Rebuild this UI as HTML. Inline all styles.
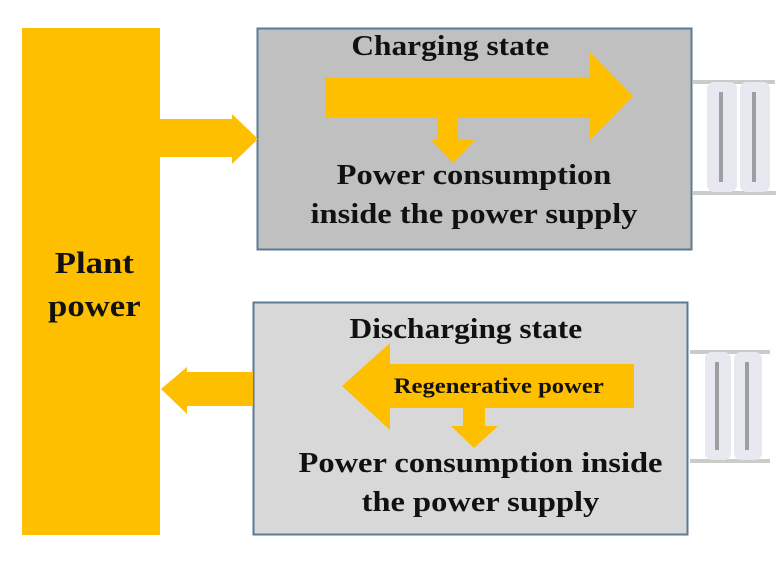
<!DOCTYPE html>
<html><head><style>
body{margin:0;width:780px;height:566px;background:#fff;overflow:hidden;position:relative;font-family:"Liberation Serif",serif;font-weight:bold}
.t{position:absolute;text-align:center;color:#111;white-space:nowrap}
.s{display:inline-block;transform:scaleX(1.12)}
</style></head><body>
<svg width="780" height="566" style="position:absolute;left:0;top:0">
<rect x="22" y="28" width="138" height="507" fill="#fdbf00"/>
<rect x="257.5" y="28.5" width="434" height="221" fill="#c0c0c0" stroke="#5a7a95" stroke-width="2"/>
<rect x="253.5" y="302.5" width="434" height="232" fill="#d8d8d8" stroke="#5a7a95" stroke-width="2"/>
<polygon points="160,119 232,119 232,114 258,139 232,164 232,157 160,157" fill="#fdbf00"/>
<polygon points="253,372 187,372 187,367 161,389 187,414 187,406 253,406" fill="#fdbf00"/>
<polygon points="325,77 590,77 590,52 633,96 590,140 590,118 458,118 458,140 475,140 453,163 431,140 437,140 437,118 325,118" fill="#fdbf00"/>
<polygon points="634,364 634,408 485,408 485,426 498,426 474,448 451,426 463,426 463,408 390,408 390,430 342,386 390,343 390,364" fill="#fdbf00"/>
<g>
<rect x="693" y="80" width="82" height="4" fill="#c9ccc9"/>
<rect x="693" y="191" width="83" height="4" fill="#c9ccc9"/>
<rect x="707" y="82" width="30" height="110" rx="7" fill="#e8e8f0"/>
<rect x="740" y="82" width="30" height="110" rx="7" fill="#e8e8f0"/>
<rect x="719" y="92" width="4" height="90" fill="#555" opacity=".5"/>
<rect x="752" y="92" width="4" height="90" fill="#555" opacity=".5"/>
<rect x="690" y="350" width="80" height="4" fill="#c9ccc9"/>
<rect x="690" y="459" width="80" height="4" fill="#c9ccc9"/>
<rect x="705" y="352" width="26" height="108" rx="7" fill="#e8e8f0"/>
<rect x="734" y="352" width="28" height="108" rx="7" fill="#e8e8f0"/>
<rect x="715" y="362" width="4" height="88" fill="#555" opacity=".5"/>
<rect x="745" y="362" width="4" height="88" fill="#555" opacity=".5"/>
</g>
</svg>
<div class="t" style="left:25px;width:138px;top:241px;font-size:31px;line-height:43px"><span class="s">Plant<br>power</span></div>
<div class="t" style="left:300px;width:300px;top:30px;font-size:28px;line-height:34px"><span class="s">Charging state</span></div>
<div class="t" style="left:257px;width:434px;top:156px;font-size:29px;line-height:39px"><span class="s">Power consumption<br>inside the power supply</span></div>
<div class="t" style="left:316px;width:300px;top:313px;font-size:28px;line-height:34px"><span class="s">Discharging state</span></div>
<div class="t" style="left:374px;width:250px;top:373px;font-size:22px;line-height:26px"><span class="s">Regenerative power</span></div>
<div class="t" style="left:263px;width:434px;top:444px;font-size:29px;line-height:39px"><span class="s">Power consumption inside<br>the power supply</span></div>
</body></html>
